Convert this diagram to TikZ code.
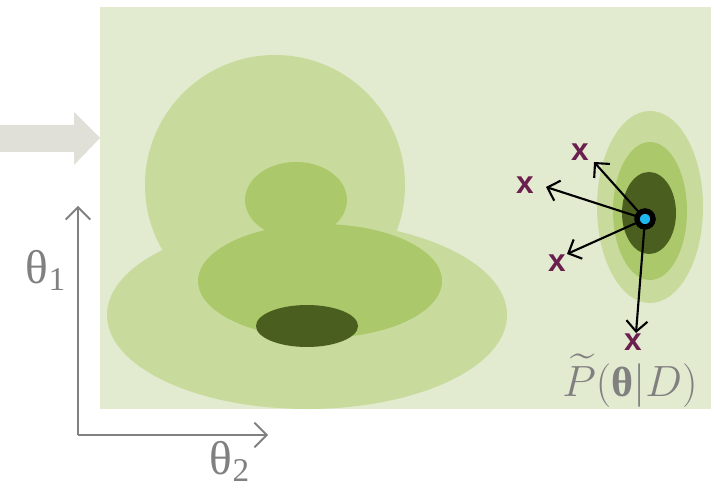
\documentclass[tikz,border=0pt]{standalone}
\usepackage{amsmath}
\usepackage{fontspec}
\usepackage{tikz}
\usetikzlibrary{arrows.meta,positioning,calc}
\newfontfamily\grkfont{Liberation Serif}
\newfontfamily\markfont{Liberation Sans}
\definecolor{bgpale}{HTML}{E2EACF}
\definecolor{lvlone}{HTML}{C8DB9C}
\definecolor{lvltwo}{HTML}{ABC86A}
\definecolor{lvlthree}{HTML}{4A5E20}
\definecolor{flowgray}{HTML}{E0E0D8}
\definecolor{axisgray}{HTML}{808080}
\definecolor{sampleplum}{HTML}{6B1F4F}
\definecolor{modecyan}{HTML}{1EB8F0}

\begin{document}
\begin{tikzpicture}[x=0.02cm, y=-0.02cm,
    axis/.style={draw=axisgray, line width=1.1pt, -{Straight Barb[length=7pt, width=14pt]}},
    axlabel/.style={text=axisgray, font=\grkfont\fontsize{27}{30}\selectfont, inner sep=0pt},
    sample/.style={text=sampleplum, font=\markfont\bfseries\fontsize{18}{19}\selectfont, inner sep=0pt},
    jump/.style={draw=black, line width=1.2pt, -{Straight Barb[length=6pt, width=12pt]}},
    modept/.style={circle, draw=black, line width=3pt, fill=modecyan, minimum size=9pt, inner sep=0pt}
]
    \useasboundingbox (0,0) rectangle (715,502);

    % background panel and incoming arrow
    \fill[bgpale] (100,7) rectangle (711,409);
    \fill[flowgray] (0,125) -- (74,125) -- (74,112) -- (100,138) -- (74,165) -- (74,152) -- (0,152) -- cycle;

    % true posterior, three contour levels
    \fill[lvlone] (275,185) circle (130);
    \fill[lvlone] (307,315) ellipse (200 and 94);
    \fill[lvltwo] (296,200) ellipse (51 and 38);
    \fill[lvltwo] (320,281) ellipse (122 and 57);
    \fill[lvlthree] (307,326) ellipse (51 and 21);

    % approximate posterior
    \fill[lvlone] (650,207) ellipse (53 and 96);
    \fill[lvltwo] (650,211) ellipse (37 and 69);
    \fill[lvlthree] (649,213) ellipse (27 and 41);

    % samples drawn around the mode
    \node[modept] (mode) at (645,219) {};
    \node[sample] (s1) at (580,152) {x};
    \node[sample] (s2) at (525,185) {x};
    \node[sample] (s3) at (557,263) {x};
    \node[sample] (s4) at (633,342) {x};
    \coordinate (t1) at (594,162);
    \coordinate (t2) at (546,187);
    \coordinate (t3) at (567,254);
    \coordinate (t4) at (636,333);
    \draw[jump] (mode.center) -- (t1);
    \draw[jump] (mode.center) -- (t2);
    \draw[jump] (mode.center) -- (t3);
    \draw[jump] (mode.center) -- (t4);
    \node[modept] at (mode) {};

    \node[text=axisgray, font=\fontsize{24}{28}\selectfont, inner sep=0pt] (ptilde) at (630,381) {$\widetilde{P}(\text{\grkfont\bfseries θ}|D)$};

    % parameter axes
    \coordinate (origin) at (78,435);
    \coordinate (ytip) at (78,206);
    \coordinate (xtip) at (268,435);
    \draw[axis] (origin) -- (ytip);
    \draw[axis] (origin) -- (xtip);
    \node[axlabel] (th1) at (46,270) {θ\textsubscript{1}};
    \node[axlabel] (th2) at (230,461) {θ\textsubscript{2}};

\end{tikzpicture}
\end{document}
